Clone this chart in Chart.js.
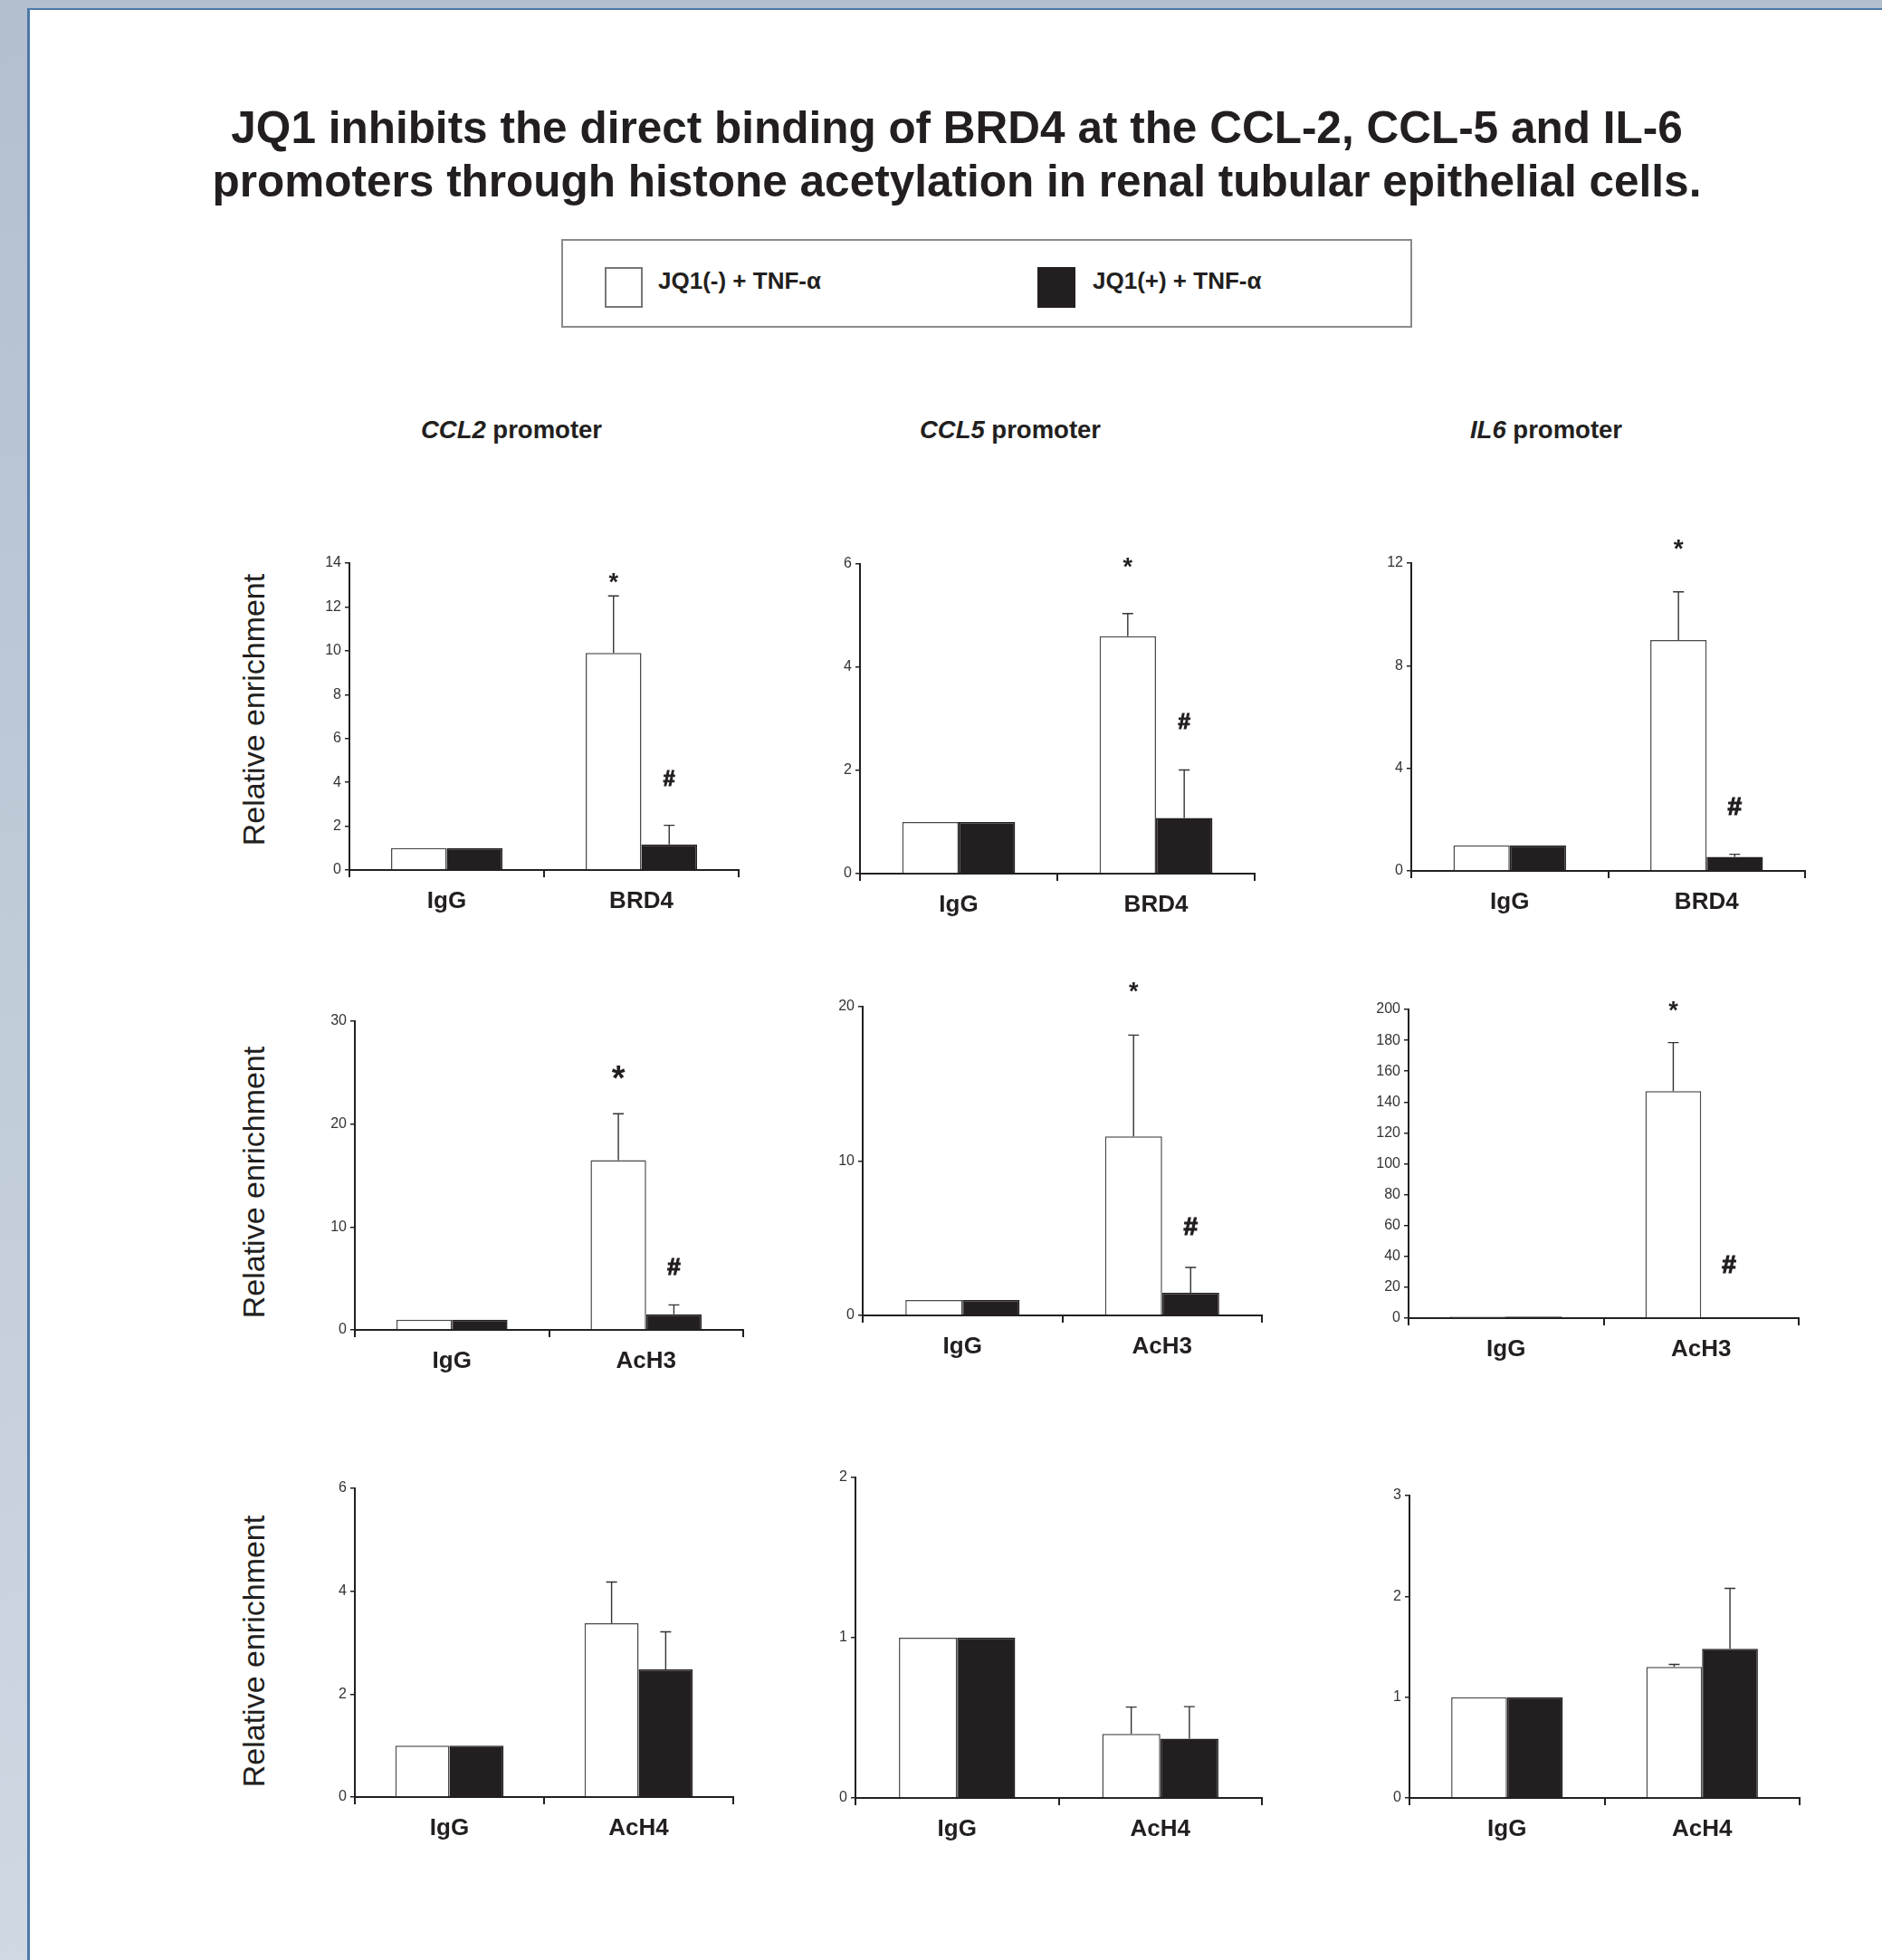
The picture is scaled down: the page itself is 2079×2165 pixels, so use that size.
<!DOCTYPE html>
<html>
<head>
<meta charset="utf-8">
<script src="https://cdn.jsdelivr.net/npm/chart.js@4.4.1/dist/chart.umd.min.js"></script>
<style>
html,body{margin:0;padding:0;}
body{width:2079px;height:2165px;position:relative;overflow:hidden;background:linear-gradient(#b3bfcf,#cfd8e3);font-family:"Liberation Sans",Arial,Helvetica,sans-serif;color:#231f20;}
#sheet{position:absolute;left:30px;top:9px;right:0;bottom:0;background:#fff;border-left:3px solid #4d78a8;border-top:2px solid #4d78a8;}
.abs{position:absolute;}
#title{left:0;width:2114px;top:111px;text-align:center;font-weight:bold;font-size:49.5px;line-height:59px;white-space:nowrap;}
#legend{left:620px;top:264px;width:936px;height:94px;border:2px solid #8a8a8a;background:#fff;}
.sw{position:absolute;top:29px;width:38px;height:41px;border:2px solid #777;}
.lt{position:absolute;top:24px;font-weight:bold;font-size:26px;line-height:40px;white-space:nowrap;}
.coltitle{width:400px;text-align:center;font-weight:bold;font-size:27.5px;line-height:34px;white-space:nowrap;}
.ytitle{width:420px;height:44px;line-height:44px;text-align:center;font-size:34px;white-space:nowrap;transform:rotate(-90deg);}
.panel{position:absolute;}
</style>
</head>
<body>
<div id="sheet"></div>
<div id="title" class="abs">JQ1 inhibits the direct binding of BRD4 at the CCL-2, CCL-5 and IL-6<br>promoters through histone acetylation in renal tubular epithelial cells.</div>
<div id="legend" class="abs">
  <div class="sw" style="left:46px;background:#fff;"></div>
  <div class="lt" id="lt0" style="left:105px;"></div>
  <div class="sw" style="left:524px;background:#231f20;border-color:#231f20;"></div>
  <div class="lt" id="lt1" style="left:585px;"></div>
</div>
<div id="cols"></div>
<div id="ytitles"></div>
<div id="panels"></div>
<script>
// ---------------- DATA ----------------
const seriesNames = ['JQ1(-) + TNF-\u03b1', 'JQ1(+) + TNF-\u03b1'];
const promoters = ['CCL2', 'CCL5', 'IL6'];
const yAxisTitle = 'Relative enrichment';

const catsBRD4 = ['IgG', 'BRD4'];
const catsAcH3 = ['IgG', 'AcH3'];
const catsAcH4 = ['IgG', 'AcH4'];

// CCL2 promoter
const ccl2Brd4Minus = [1.0, 9.9];   const ccl2Brd4MinusErr = [0, 2.6];
const ccl2Brd4Plus  = [1.0, 1.17];  const ccl2Brd4PlusErr  = [0, 0.87];
const ccl2AcH3Minus = [1.0, 16.5];  const ccl2AcH3MinusErr = [0, 4.5];
const ccl2AcH3Plus  = [1.0, 1.52];  const ccl2AcH3PlusErr  = [0, 0.91];
const ccl2AcH4Minus = [1.0, 3.38];  const ccl2AcH4MinusErr = [0, 0.8];
const ccl2AcH4Plus  = [1.0, 2.48];  const ccl2AcH4PlusErr  = [0, 0.73];
// CCL5 promoter
const ccl5Brd4Minus = [1.0, 4.6];   const ccl5Brd4MinusErr = [0, 0.44];
const ccl5Brd4Plus  = [1.0, 1.08];  const ccl5Brd4PlusErr  = [0, 0.93];
const ccl5AcH3Minus = [1.0, 11.6];  const ccl5AcH3MinusErr = [0, 6.56];
const ccl5AcH3Plus  = [1.0, 1.47];  const ccl5AcH3PlusErr  = [0, 1.64];
const ccl5AcH4Minus = [1.0, 0.40];  const ccl5AcH4MinusErr = [0, 0.167];
const ccl5AcH4Plus  = [1.0, 0.37];  const ccl5AcH4PlusErr  = [0, 0.2];
// IL6 promoter
const il6Brd4Minus  = [1.0, 9.0];   const il6Brd4MinusErr  = [0, 1.88];
const il6Brd4Plus   = [1.0, 0.55];  const il6Brd4PlusErr   = [0, 0.1];
const il6AcH3Minus  = [1.0, 147];   const il6AcH3MinusErr  = [0, 31.5];
const il6AcH3Plus   = [1.0, 0.5];   const il6AcH3PlusErr   = [0, 0];
const il6AcH4Minus  = [1.0, 1.30];  const il6AcH4MinusErr  = [0, 0.025];
const il6AcH4Plus   = [1.0, 1.48];  const il6AcH4PlusErr   = [0, 0.6];

// y-axis ranges [max, step]
const yMaxes = [14, 6, 12, 30, 20, 200, 6, 2, 3];
const ySteps = [2, 2, 4, 10, 10, 20, 2, 1, 1];

// significance marks: [dataset, category, symbol, level (data units)]
const marks1 = [[0, 1, '*', 13.4], [1, 1, '#', 4.2]];
const marks2 = [[0, 1, '*', 6.06], [1, 1, '#', 2.95]];
const marks3 = [[0, 1, '*', 12.8], [1, 1, '#', 2.53]];
const marks4 = [[0, 1, '*', 25.25], [1, 1, '#', 6.17]];
const marks5 = [[0, 1, '*', 21.4], [1, 1, '#', 5.81]];
const marks6 = [[0, 1, '*', 203.4], [1, 1, '#', 35.0]];

// ---------------- LAYOUT (positions/styles) ----------------
const FONT = '"Liberation Sans", Arial, Helvetica, sans-serif';
Chart.defaults.font.family = FONT;
const INK = '#231f20';
const YW = 70, XH = 64, PT = 60, PR = 12;

// axisX, xEnd, yTop, y0 (page pixels)
const geo = [
  [386, 815.6, 622.3, 961.7], [950.4, 1386.4, 623.3, 965], [1559, 1994.3, 621.7, 961.7],
  [392.4, 821.4, 1127.7, 1468.3], [953.2, 1394.3, 1111.7, 1452.3], [1556, 1986.7, 1115, 1455.7],
  [392.4, 809.9, 1644.3, 1985], [945.4, 1394.3, 1632.3, 1986], [1556.7, 1987.3, 1651.7, 1985.7]
];
// mark font sizes per panel: [asterisk, hash]
const markSizes = [[27, 23], [27, 24], [28, 28], [38, 26], [27, 28], [27, 28], [27, 24], [27, 24], [27, 24]];

const panels = [
  [catsBRD4, ccl2Brd4Minus, ccl2Brd4MinusErr, ccl2Brd4Plus, ccl2Brd4PlusErr, marks1],
  [catsBRD4, ccl5Brd4Minus, ccl5Brd4MinusErr, ccl5Brd4Plus, ccl5Brd4PlusErr, marks2],
  [catsBRD4, il6Brd4Minus, il6Brd4MinusErr, il6Brd4Plus, il6Brd4PlusErr, marks3],
  [catsAcH3, ccl2AcH3Minus, ccl2AcH3MinusErr, ccl2AcH3Plus, ccl2AcH3PlusErr, marks4],
  [catsAcH3, ccl5AcH3Minus, ccl5AcH3MinusErr, ccl5AcH3Plus, ccl5AcH3PlusErr, marks5],
  [catsAcH3, il6AcH3Minus, il6AcH3MinusErr, il6AcH3Plus, il6AcH3PlusErr, marks6],
  [catsAcH4, ccl2AcH4Minus, ccl2AcH4MinusErr, ccl2AcH4Plus, ccl2AcH4PlusErr, []],
  [catsAcH4, ccl5AcH4Minus, ccl5AcH4MinusErr, ccl5AcH4Plus, ccl5AcH4PlusErr, []],
  [catsAcH4, il6AcH4Minus, il6AcH4MinusErr, il6AcH4Plus, il6AcH4PlusErr, []]
];

// legend + titles
document.getElementById('lt0').textContent = seriesNames[0];
document.getElementById('lt1').textContent = seriesNames[1];
const colCenters = [565, 1116, 1708];
const cols = document.getElementById('cols');
promoters.forEach((p, i) => {
  const d = document.createElement('div');
  d.className = 'abs coltitle';
  d.style.left = (colCenters[i] - 200) + 'px';
  d.style.top = (475 - 17) + 'px';
  const em = document.createElement('i'); em.textContent = p;
  d.appendChild(em); d.appendChild(document.createTextNode(' promoter'));
  cols.appendChild(d);
});
const rowCenters = [784, 1306, 1824];
const yt = document.getElementById('ytitles');
rowCenters.forEach(cy => {
  const d = document.createElement('div');
  d.className = 'abs ytitle';
  d.style.left = (280 - 210) + 'px';
  d.style.top = (cy - 22) + 'px';
  d.textContent = yAxisTitle;
  yt.appendChild(d);
});

// plugins
const errorBars = {
  id: 'errorBars',
  afterDatasetsDraw(chart) {
    const ctx = chart.ctx, ys = chart.scales.y;
    chart.data.datasets.forEach((ds, i) => {
      const meta = chart.getDatasetMeta(i);
      meta.data.forEach((bar, j) => {
        const e = ds.errors[j];
        if (!e) return;
        const yv = ys.getPixelForValue(ds.data[j] + e);
        ctx.save();
        ctx.strokeStyle = '#333';
        ctx.lineWidth = 1.4;
        ctx.beginPath();
        ctx.moveTo(bar.x, bar.y);
        ctx.lineTo(bar.x, yv);
        ctx.moveTo(bar.x - 6, yv);
        ctx.lineTo(bar.x + 6, yv);
        ctx.stroke();
        ctx.restore();
      });
    });
  }
};
const sigMarks = {
  id: 'sigMarks',
  afterDatasetsDraw(chart, args, opts) {
    const ctx = chart.ctx, ys = chart.scales.y;
    (opts.marks || []).forEach(([ds, idx, sym, level]) => {
      const bar = chart.getDatasetMeta(ds).data[idx];
      const size = sym === '*' ? opts.sizes[0] : opts.sizes[1];
      const off = sym === '*' ? 0.57 : 0.36;
      const y = ys.getPixelForValue(level) + off * size;
      ctx.save();
      ctx.fillStyle = INK;
      ctx.strokeStyle = INK;
      ctx.font = 'bold ' + size + 'px ' + FONT;
      ctx.textAlign = 'center';
      ctx.textBaseline = 'alphabetic';
      ctx.fillText(sym, bar.x, y);
      if (sym === '#') { ctx.lineWidth = 1.2; ctx.strokeText(sym, bar.x, y); }
      ctx.restore();
    });
  }
};

const host = document.getElementById('panels');
panels.forEach((p, k) => {
  const [cats, v0, e0, v1, e1, marks] = p;
  const [ax, xe, yt0, y0] = geo[k];
  const left = ax - YW, top = yt0 - PT;
  const w = Math.round(YW + (xe - ax) + PR), h = Math.round(PT + (y0 - yt0) + XH);
  const wrap = document.createElement('div');
  wrap.className = 'panel';
  wrap.style.left = left + 'px'; wrap.style.top = top + 'px';
  wrap.style.width = w + 'px'; wrap.style.height = h + 'px';
  const cv = document.createElement('canvas');
  cv.width = w; cv.height = h;
  cv.style.width = w + 'px'; cv.style.height = h + 'px';
  wrap.appendChild(cv); host.appendChild(wrap);
  new Chart(cv, {
    type: 'bar',
    data: {
      labels: cats,
      datasets: [
        {label: seriesNames[0], data: v0, errors: e0, backgroundColor: '#ffffff', borderColor: '#4a4a4a', borderWidth: 1.5},
        {label: seriesNames[1], data: v1, errors: e1, backgroundColor: INK, borderColor: INK, borderWidth: 1.5}
      ]
    },
    options: {
      responsive: false, animation: false, devicePixelRatio: 1,
      layout: {padding: {top: PT, right: PR, left: 0, bottom: 0}},
      datasets: {bar: {categoryPercentage: 0.572, barPercentage: 1.0}},
      plugins: {
        legend: {display: false}, tooltip: {enabled: false},
        sigMarks: {marks: marks, sizes: markSizes[k]}
      },
      scales: {
        x: {
          offset: true,
          grid: {display: true, offset: true, drawOnChartArea: false, drawTicks: true, tickLength: 8, color: INK, lineWidth: 2},
          border: {display: true, color: INK, width: 2},
          ticks: {font: {size: 26, weight: 'bold'}, color: INK, padding: 11},
          afterFit(s) { s.height = XH; }
        },
        y: {
          min: 0, max: yMaxes[k],
          ticks: {stepSize: ySteps[k], font: {size: 16}, color: '#333333', padding: 4},
          grid: {drawOnChartArea: false, drawTicks: true, tickLength: 5, color: INK, lineWidth: 1.5},
          border: {display: true, color: INK, width: 2},
          afterFit(s) { s.width = YW; }
        }
      }
    },
    plugins: [errorBars, sigMarks]
  });
});
</script>
</body>
</html>
